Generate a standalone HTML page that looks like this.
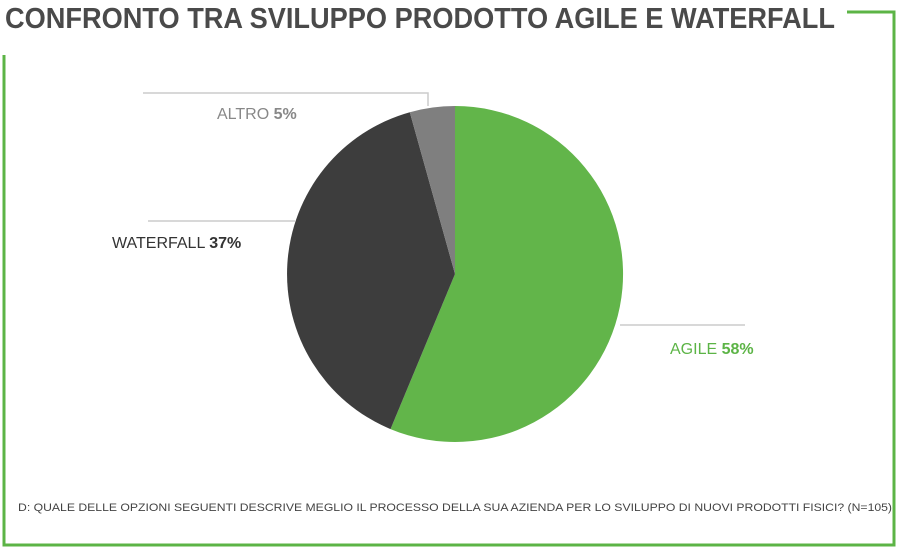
<!DOCTYPE html>
<html><head><meta charset="utf-8"><style>
html,body{margin:0;padding:0;background:#fff;}
svg{display:block;font-family:"Liberation Sans",sans-serif;}
</style></head><body>
<svg width="900" height="549" viewBox="0 0 900 549">
<polyline points="847,12 894,12 894,545 4,545 4,55" fill="none" stroke="#5cb446" stroke-width="3"/>
<text x="5" y="28" font-size="29" font-weight="bold" fill="#4a4a4a" textLength="830" lengthAdjust="spacingAndGlyphs">CONFRONTO TRA SVILUPPO PRODOTTO AGILE E WATERFALL</text>
<g transform="translate(455,274)">
<path d="M0,0 L0,-168 A168,168 0 1 1 -64.5,155.1 Z" fill="#62b54a"/>
<path d="M0,0 L-64.5,155.1 A168,168 0 0 1 -45.2,-161.8 Z" fill="#3d3d3d"/>
<path d="M0,0 L-45.2,-161.8 A168,168 0 0 1 0,-168 Z" fill="#7f7f7f"/>
</g>
<polyline points="143,93 428,93 428,106" fill="none" stroke="#ccc" stroke-width="1.5"/>
<line x1="148" y1="221" x2="295" y2="221" stroke="#ccc" stroke-width="1.5"/>
<line x1="620" y1="325" x2="745" y2="325" stroke="#ccc" stroke-width="1.5"/>
<text x="217" y="119" font-size="16" fill="#888">ALTRO <tspan font-weight="bold">5%</tspan></text>
<text x="112" y="248" font-size="16" fill="#333">WATERFALL <tspan font-weight="bold">37%</tspan></text>
<text x="670" y="354" font-size="16" fill="#5cb446">AGILE <tspan font-weight="bold">58%</tspan></text>
<text x="18" y="511" font-size="11" fill="#444" textLength="874" lengthAdjust="spacingAndGlyphs">D: QUALE DELLE OPZIONI SEGUENTI DESCRIVE MEGLIO IL PROCESSO DELLA SUA AZIENDA PER LO SVILUPPO DI NUOVI PRODOTTI FISICI? (N=105)</text>
</svg>
</body></html>
